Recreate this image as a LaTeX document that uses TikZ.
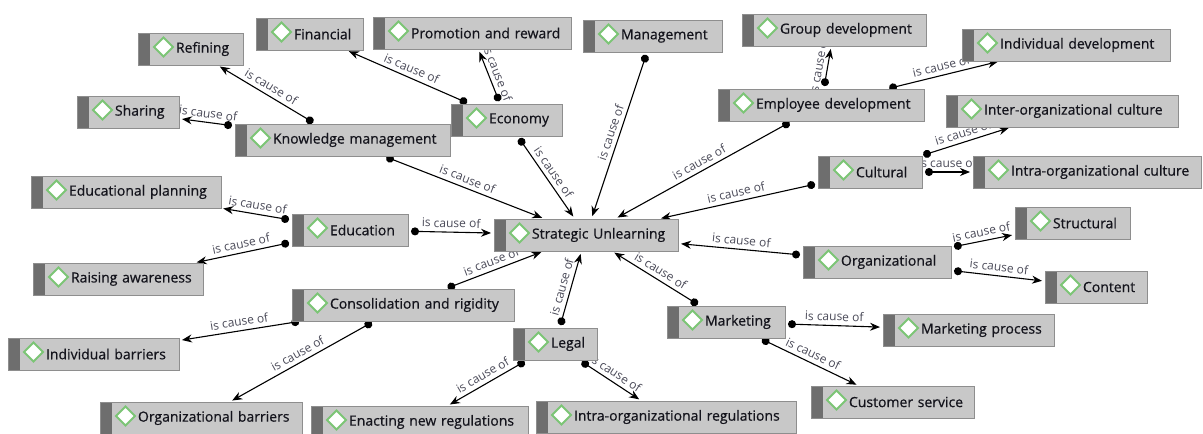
\documentclass[tikz,border=0pt]{standalone}
\usepackage{fontspec}
\setmainfont{Open Sans}
\newfontfamily\conceptfont{Open Sans}[FakeBold=0.6]
\usetikzlibrary{arrows.meta,backgrounds}

\definecolor{boxfill}{HTML}{C8C8C8}
\definecolor{boxline}{HTML}{8E8E8E}
\definecolor{stripgray}{HTML}{6E6E6E}
\definecolor{icongreen}{HTML}{7CC576}
\definecolor{labelgray}{HTML}{4A4A58}
\definecolor{textdark}{HTML}{14141C}

\tikzset{
  concept/.style={rectangle, draw=boxline, line width=1pt, fill=boxfill,
    anchor=north west, minimum height=32pt, inner xsep=0pt, inner ysep=0pt,
    outer sep=0pt, text width=#1pt, align=left, text=textdark,
    font=\conceptfont\fontsize{14}{16}\selectfont,
    execute at begin node={\hspace*{38pt}},
    path picture={
      \fill[stripgray] (path picture bounding box.north west) rectangle
        ([xshift=12pt]path picture bounding box.south west);
      \coordinate (ic) at ([xshift=25.5pt,yshift=2pt]path picture bounding box.west);
      \draw[icongreen, fill=white, line width=1.8pt]
        (ic) +(-9.5,0) -- +(0,9.5) -- +(9.5,0) -- +(0,-9.5) -- cycle;
    }},
  causes/.style={line width=1.1pt, shorten <=3pt, shorten >=3pt,
    {Circle[length=8pt]}-{Stealth[length=10pt,width=8pt]}},
  lbl/.style={sloped, above, inner sep=4pt, text=labelgray,
    font=\fontsize{12}{12}\selectfont}
}

\begin{document}
\begin{tikzpicture}[x=1pt,y=-1pt]

  \useasboundingbox (0,0) rectangle (1203,434);

  % concepts
  \node[concept=105] (refining) at (138,33) {Refining};
  \node[concept=107] (financial) at (256,18) {Financial};
  \node[concept=198] (promotion) at (373,17) {Promotion and reward};
  \node[concept=139] (management) at (583,20) {Management};
  \node[concept=184] (groupdev) at (742,14) {Group development};
  \node[concept=208] (indivdev) at (962,29) {Individual development};
  \node[concept=102] (sharing) at (77,96) {Sharing};
  \node[concept=215] (km) at (235,124) {Knowledge management};
  \node[concept=111] (economy) at (451,104) {Economy};
  \node[concept=206] (empdev) at (718,89) {Employee development};
  \node[concept=232] (interculture) at (946,95) {Inter-organizational culture};
  \node[concept=104] (cultural) at (818,156) {Cultural};
  \node[concept=228] (intraculture) at (973,156) {Intra-organizational culture};
  \node[concept=190] (edplanning) at (31,176) {Educational planning};
  \node[concept=116] (education) at (292,214) {Education};
  \node[concept=184] (su) at (494,219) {Strategic Unlearning};
  \node[concept=115] (structural) at (1015,207) {Structural};
  \node[concept=148] (organizational) at (803,246) {Organizational};
  \node[concept=102] (content) at (1045,271) {Content};
  \node[concept=170] (awareness) at (33,263) {Raising awareness};
  \node[concept=222] (consolidation) at (292,289) {Consolidation and rigidity};
  \node[concept=118] (marketing) at (667,306) {Marketing};
  \node[concept=171] (mktprocess) at (883,314) {Marketing process};
  \node[concept=171] (indivbarriers) at (8,338) {Individual barriers};
  \node[concept=84] (legal) at (513,328) {Legal};
  \node[concept=163] (custservice) at (811,386) {Customer service};
  \node[concept=202] (orgbarriers) at (100,402) {Organizational barriers};
  \node[concept=217] (enacting) at (311,406) {Enacting new regulations};
  \node[concept=260] (intraregs) at (536,401) {Intra-organizational regulations};

  % relations
  \begin{pgfonlayer}{background}
    \draw[causes] (km) -- node[lbl] {is cause of} (refining);
    \draw[causes] (km) -- node[lbl] {is cause of} (sharing);
    \draw[causes] (economy) -- node[lbl] {is cause of} (financial);
    \draw[causes] (economy) -- node[lbl] {is cause of} (promotion);
    \draw[causes] (km) -- node[lbl] {is cause of} (su);
    \draw[causes] (economy) -- node[lbl] {is cause of} (su);
    \draw[causes] (management) -- node[lbl] {is cause of} (su);
    \draw[causes] (empdev) -- node[lbl] {is cause of} (su);
    \draw[causes] (cultural) -- node[lbl] {is cause of} (su);
    \draw[causes] (empdev) -- node[lbl] {is cause of} (groupdev);
    \draw[causes] (empdev) -- node[lbl] {is cause of} (indivdev);
    \draw[causes] (cultural) -- node[lbl] {is cause of} (interculture);
    \draw[causes] (cultural) -- node[lbl] {is cause of} (intraculture);
    \draw[causes] (organizational) -- node[lbl] {is cause of} (su);
    \draw[causes] (organizational) -- node[lbl] {is cause of} (structural);
    \draw[causes] (organizational) -- node[lbl] {is cause of} (content);
    \draw[causes] (marketing) -- node[lbl] {is cause of} (su);
    \draw[causes] (marketing) -- node[lbl] {is cause of} (mktprocess);
    \draw[causes] (marketing) -- node[lbl] {is cause of} (custservice);
    \draw[causes] (legal) -- node[lbl] {is cause of} (su);
    \draw[causes] (legal) -- node[lbl] {is cause of} (enacting);
    \draw[causes] (legal) -- node[lbl] {is cause of} (intraregs);
    \draw[causes] (consolidation) -- node[lbl] {is cause of} (su);
    \draw[causes] (consolidation) -- node[lbl] {is cause of} (indivbarriers);
    \draw[causes] (consolidation) -- node[lbl] {is cause of} (orgbarriers);
    \draw[causes] (education) -- node[lbl] {is cause of} (edplanning);
    \draw[causes] (education) -- node[lbl] {is cause of} (awareness);
    \draw[causes] (education) -- node[lbl] {is cause of} (su);
  \end{pgfonlayer}

\end{tikzpicture}
\end{document}
